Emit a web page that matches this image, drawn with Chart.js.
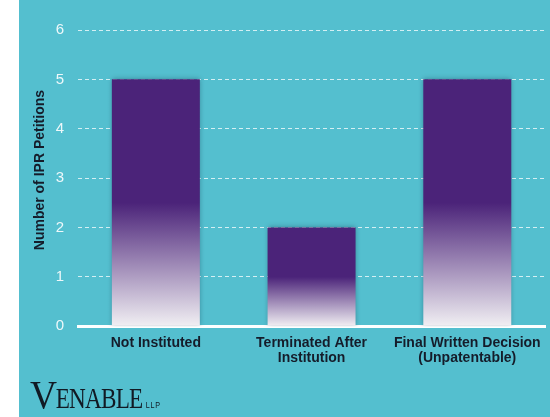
<!DOCTYPE html>
<html>
<head>
<meta charset="utf-8">
<script src="https://cdn.jsdelivr.net/npm/chart.js@4.4.1/dist/chart.umd.min.js"></script>
<style>
  html, body { margin: 0; padding: 0; background: #fff; }
  #panel { position: absolute; left: 19px; top: 0; width: 531px; height: 417px; background: #54bfcf; overflow: hidden; }
  #wrap { position: absolute; left: 0; top: 0; width: 531px; height: 417px; }
  #logo { position: absolute; left: 11px; top: 372px; font-family: "Liberation Serif", "DejaVu Serif", serif; color: #111a24; white-space: nowrap; letter-spacing: -1px; transform: scaleX(0.8); transform-origin: left top; }
  #logo .big { font-size: 39px; display: inline-block; transform: scaleX(1.2); transform-origin: left bottom; margin-right: 5px; }
  #logo .mid { font-size: 29px; }
  #logo .llp { font-size: 9px; letter-spacing: 1px; margin-left: 4px; font-family: "Liberation Sans", sans-serif; }
</style>
</head>
<body>
<div id="panel">
  <div id="wrap"><canvas id="chart" width="531" height="417"></canvas></div>
  <div id="logo"><span class="big">V</span><span class="mid">ENABLE</span><span class="llp">LLP</span></div>
</div>
<script>
// data
const categories = [['Not Instituted'], ['Terminated After', 'Institution'], ['Final Written Decision', '(Unpatentable)']];
const petitions = [5, 2, 5];
const yTicks = [0, 1, 2, 3, 4, 5, 6];
const yTitle = 'Number of IPR Petitions';

const purple = '#4b2379';

// each bar: solid purple on the top half, fading to near white on the lower half
function barFill(context) {
    const chart = context.chart;
    const yScale = chart.scales.y;
    if (!yScale || !chart.chartArea || context.raw === undefined) return purple;
    const top = yScale.getPixelForValue(context.raw);
    const bottom = yScale.getPixelForValue(0);
    if (!(bottom > top)) return purple;
    const g = chart.ctx.createLinearGradient(0, top, 0, bottom);
    g.addColorStop(0, purple);
    g.addColorStop(0.5, purple);
    g.addColorStop(1, '#f1eff3');
    return g;
}

// soft shadow around bars
const barShadow = {
    id: 'barShadow',
    beforeDatasetsDraw(chart) {
        const ctx = chart.ctx;
        ctx.save();
        ctx.shadowColor = 'rgba(20, 60, 80, 0.45)';
        ctx.shadowBlur = 5;
    },
    afterDatasetsDraw(chart) {
        chart.ctx.restore();
    }
};

// y axis title, sitting a little above the middle of the plot like the original
const sideTitle = {
    id: 'sideTitle',
    afterDraw(chart) {
        const ctx = chart.ctx;
        const area = chart.chartArea;
        ctx.save();
        ctx.translate(21, (area.top + area.bottom) / 2 - 8);
        ctx.rotate(-Math.PI / 2);
        ctx.font = 'bold 14px "Liberation Sans", Arial, sans-serif';
        ctx.fillStyle = '#151c2a';
        ctx.textAlign = 'center';
        ctx.textBaseline = 'middle';
        ctx.fillText(yTitle, 0, 0);
        ctx.restore();
    }
};

new Chart(document.getElementById('chart').getContext('2d'), {
    type: 'bar',
    data: {
        labels: categories,
        datasets: [{
            data: petitions,
            backgroundColor: barFill,
            borderWidth: 0,
            categoryPercentage: 0.565,
            barPercentage: 1.0
        }]
    },
    plugins: [barShadow, sideTitle],
    options: {
        responsive: false,
        animation: false,
        layout: { padding: { left: 0, right: 2, top: 30, bottom: 42 } },
        plugins: { legend: { display: false }, tooltip: { enabled: false } },
        scales: {
            x: {
                grid: { display: false, drawTicks: false },
                border: { display: true, color: '#ffffff', width: 3 },
                ticks: {
                    color: '#151c2a',
                    font: { family: 'Liberation Sans, Arial, sans-serif', size: 14, weight: 'bold', lineHeight: 1.1 },
                    padding: 9,
                    maxRotation: 0
                }
            },
            y: {
                min: 0,
                max: 6,
                afterBuildTicks(axis) { axis.ticks = yTicks.map(v => ({ value: v })); },
                afterFit(axis) { axis.width = 59; },
                grid: {
                    color: 'rgba(255,255,255,0.75)',
                    lineWidth: 1,
                    drawTicks: false
                },
                border: { display: false, dash: [4, 3] },
                ticks: {
                    color: '#eef8fa',
                    font: { family: 'Liberation Sans, Arial, sans-serif', size: 15 },
                    padding: 14
                }
            }
        }
    }
});
</script>
</body>
</html>
